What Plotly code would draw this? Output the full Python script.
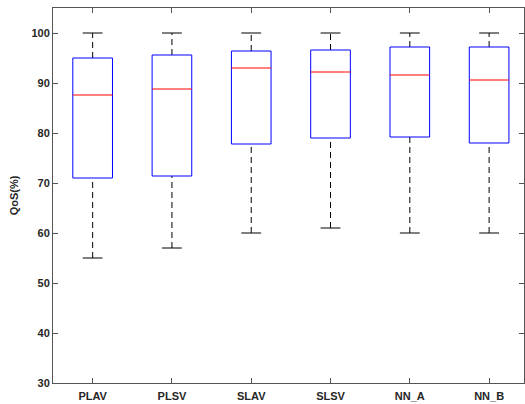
import plotly.graph_objects as go

categories = ["PLAV", "PLSV", "SLAV", "SLSV", "NN_A", "NN_B"]
upper_whisker = [100, 100, 100, 100, 100, 100]
q3 = [95.0, 95.6, 96.4, 96.6, 97.2, 97.2]
median = [87.6, 88.8, 93.0, 92.2, 91.6, 90.6]
q1 = [71.0, 71.4, 77.8, 79.0, 79.2, 78.0]
lower_whisker = [55, 57, 60, 61, 60, 60]
y_ticks = [30, 40, 50, 60, 70, 80, 90, 100]

xpos = list(range(1, len(categories) + 1))
box_width = 0.5
half_box = box_width / 2
half_cap = 0.125

fig = go.Figure()

# whiskers (dashed black)
wx, wy = [], []
for x, lo, a, b, hi in zip(xpos, lower_whisker, q1, q3, upper_whisker):
    wx += [x, x, None, x, x, None]
    wy += [lo, a, None, b, hi, None]
fig.add_trace(go.Scatter(x=wx, y=wy, mode="lines",
                         line=dict(color="black", width=1, dash="6px,4px"),
                         hoverinfo="skip", showlegend=False))
# caps
cx, cy = [], []
for x, lo, hi in zip(xpos, lower_whisker, upper_whisker):
    cx += [x - half_cap, x + half_cap, None, x - half_cap, x + half_cap, None]
    cy += [lo, lo, None, hi, hi, None]
fig.add_trace(go.Scatter(x=cx, y=cy, mode="lines",
                         line=dict(color="black", width=1),
                         hoverinfo="skip", showlegend=False))

# boxes (blue outlines)
bx, by = [], []
for x, a, b in zip(xpos, q1, q3):
    bx += [x - half_box, x + half_box, x + half_box, x - half_box, x - half_box, None]
    by += [a, a, b, b, a, None]
fig.add_trace(go.Scatter(x=bx, y=by, mode="lines",
                         line=dict(color="#0000FF", width=1),
                         hoverinfo="skip", showlegend=False))

# medians (red)
mx, my = [], []
for x, m in zip(xpos, median):
    mx += [x - half_box, x + half_box, None]
    my += [m, m, None]
fig.add_trace(go.Scatter(x=mx, y=my, mode="lines",
                         line=dict(color="#FF0000", width=1),
                         hoverinfo="skip", showlegend=False))

font = dict(family="Liberation Sans, Arial, sans-serif", size=11,
            color="#262626", weight="bold")
axis_common = dict(showline=True, linecolor="#555555", linewidth=1, mirror="ticks",
                   ticks="inside", ticklen=5, tickcolor="#555555", showgrid=False,
                   zeroline=False, automargin=False, tickfont=font)

fig.update_layout(
    width=525, height=404,
    margin=dict(l=53, r=1, t=8, b=21),
    paper_bgcolor="white", plot_bgcolor="white",
    hovermode=False,
    xaxis=dict(range=[0.5, 6.44], tickvals=xpos, ticktext=categories,
               ticklabelstandoff=3, **axis_common),
    yaxis=dict(range=[30, 105], tickvals=y_ticks,
               title=dict(text="QoS(%)", standoff=10, font=font),
               **axis_common),
)

fig.write_html("out.html", config={"displayModeBar": False, "staticPlot": True},
               post_script="document.body.style.margin='0';")
